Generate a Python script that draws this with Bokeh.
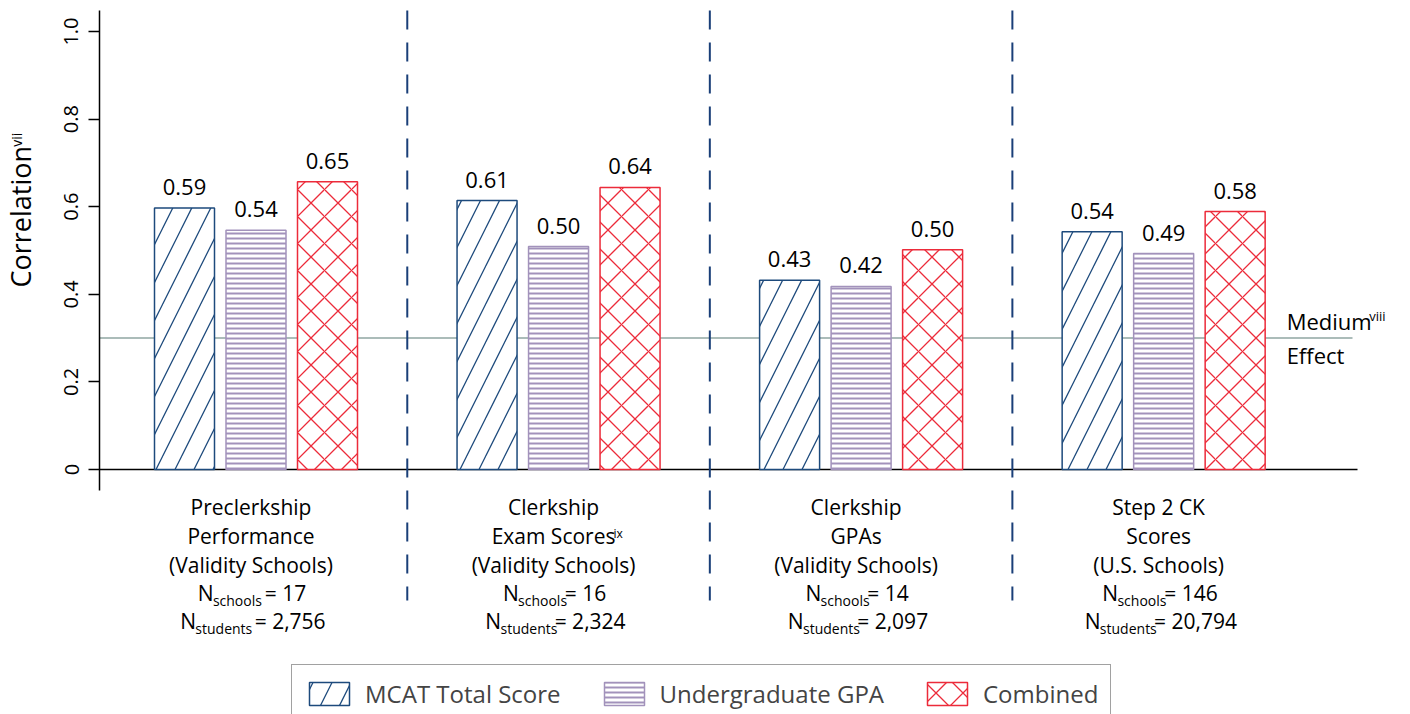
import math
from bokeh.plotting import figure
from bokeh.models import (ColumnDataSource, Range1d, FixedTicker, LinearAxis,
                          Label, LabelSet, Legend, LegendItem)
from bokeh.core.properties import value
from bokeh.embed import file_html
from bokeh.resources import INLINE

# ---------------- data ----------------
group_line1 = ["Preclerkship", "Clerkship", "Clerkship", "Step 2 CK"]
group_line2 = ["Performance", "Exam Scores", "GPAs", "Scores"]
group_line2_sup = ["", "ix", "", ""]
group_line3 = ["(Validity Schools)", "(Validity Schools)", "(Validity Schools)", "(U.S. Schools)"]
n_schools = ["17", "16", "14", "146"]
n_students = ["2,756", "2,324", "2,097", "20,794"]
eq_text = [" = ", "= ", "= ", "= "]

series_names = ["MCAT Total Score", "Undergraduate GPA", "Combined"]
mcat = [0.597, 0.614, 0.432, 0.543]
ugpa = [0.546, 0.509, 0.418, 0.493]
combined = [0.657, 0.644, 0.502, 0.589]
mcat_labels = ["0.59", "0.61", "0.43", "0.54"]
ugpa_labels = ["0.54", "0.50", "0.42", "0.49"]
combined_labels = ["0.65", "0.64", "0.50", "0.58"]

y_ticks = [0, 0.2, 0.4, 0.6, 0.8, 1.0]
y_tick_labels = ["0", "0.2", "0.4", "0.6", "0.8", "1.0"]
medium_effect = 0.3

# ---------------- styling / layout ----------------
NAVY = "#1d4a7c"
DIV = "#1a3f78"
LAV = "#a292bb"
RED = "#ec2b3a"
MED = "#8fa6a2"
FONT = "Open Sans"

W = {' ': 0.26, '(': 0.296, ')': 0.296, ',': 0.245, '.': 0.267, '=': 0.572,
     'N': 0.76, 's': 0.479, 'c': 0.48, 'h': 0.618, 'o': 0.6, 'l': 0.258, 't': 0.352,
     'u': 0.618, 'd': 0.615, 'e': 0.561, 'n': 0.618, 'i': 0.258, 'x': 0.52, 'v': 0.5,
     'r': 0.408, 'a': 0.556, 'm': 0.94, 'E': 0.556, 'S': 0.55, 'M': 0.907, 'C': 0.632}
for d in "0123456789":
    W[d] = 0.572


def tw(s, size):
    return 0.95 * sum(W.get(c, 0.55) for c in s) * size


CW, CH = 1408, 714
PX = 302.55                    # pixels per group
PY = 437.96                    # pixels per unit correlation
G0_PX, ZERO_PY = 255.5, 469.0  # canvas position of group 0 centre / of correlation 0
XS = -G0_PX / PX
XE = XS + CW / PX
YE = ZERO_PY / PY
YS = YE - CH / PY
AXIS_X = (99 - G0_PX) / PX
AX_BOT, AX_TOP = -21 / PY, 459 / PY
BASE_END = (1357 - G0_PX) / PX
MED_END = (1352 - G0_PX) / PX
DIV_BOT = -131 / PY
BAR_W = 60 / PX
OFF = 71.5 / PX

p = figure(width=CW, height=CH, output_backend="svg", toolbar_location=None,
           x_range=Range1d(XS, XE), y_range=Range1d(YS, YE),
           x_axis_location=None, y_axis_location=None,
           min_border_left=0, min_border_right=0, min_border_top=0, min_border_bottom=0,
           background_fill_color="white", border_fill_color="white")
p.outline_line_color = None
p.xgrid.grid_line_color = None
p.ygrid.grid_line_color = None

ax = LinearAxis(fixed_location=AXIS_X, bounds=(AX_BOT, AX_TOP))
ax.ticker = FixedTicker(ticks=y_ticks)
ax.major_label_overrides = {t: l for t, l in zip(y_ticks, y_tick_labels)}
ax.major_label_orientation = "vertical"
ax.major_label_text_font = FONT
ax.major_label_text_font_size = "20px"
ax.major_label_text_color = "black"
ax.major_label_standoff = 10
ax.axis_line_color = "black"
ax.axis_line_width = 1.5
ax.major_tick_line_color = "black"
ax.major_tick_line_width = 1.5
ax.major_tick_out = 11
ax.major_tick_in = 0
ax.minor_tick_line_color = None
p.add_layout(ax, "left")

# baseline and medium-effect line
p.segment(x0=[AXIS_X], y0=[0], x1=[BASE_END], y1=[0], line_color="black", line_width=1.5)
p.segment(x0=[AXIS_X], y0=[medium_effect], x1=[MED_END], y1=[medium_effect],
          line_color=MED, line_width=1.5)

groups = list(range(len(group_line1)))

# dashed dividers between groups
div_x = [g + 0.5 for g in groups[:-1]]
p.segment(x0=div_x, y0=[AX_TOP] * len(div_x), x1=div_x, y1=[DIV_BOT] * len(div_x),
          line_color=DIV, line_width=2, line_dash="19 13")

series = [
    (mcat, mcat_labels, -OFF, dict(line_color=NAVY, hatch_pattern="/", hatch_color=NAVY,
                                   hatch_scale=38, hatch_weight=1.3)),
    (ugpa, ugpa_labels, 0.0, dict(line_color=LAV, hatch_pattern="-", hatch_color=LAV,
                                  hatch_scale=5, hatch_weight=2.0)),
    (combined, combined_labels, OFF, dict(line_color=RED, hatch_pattern="x", hatch_color=RED,
                                          hatch_scale=27, hatch_weight=1.3)),
]
renderers = []
for vals, labs, off, style in series:
    src = ColumnDataSource(dict(x=[g + off for g in groups], top=vals, label=labs))
    r = p.vbar(x="x", top="top", bottom=0, width=BAR_W, source=src,
               fill_color="white", line_width=1.5, **style)
    renderers.append(r)
    p.add_layout(LabelSet(x="x", y="top", text="label", source=src, y_offset=13,
                          text_align="center", text_baseline="alphabetic",
                          text_font=value(FONT), text_font_size="22px", text_color="black"))


def lab(x, y, xo, yo, text, size, align="left", angle=0.0):
    fix = 0.38 * size
    if angle:
        xo -= fix
    else:
        yo += fix
    p.add_layout(Label(x=x, y=y, x_offset=xo, y_offset=yo, text=text, text_font=FONT,
                       text_font_size=f"{size}px", text_color="black", text_align=align,
                       text_baseline="alphabetic", angle=angle))


# group labels (baselines in px relative to the zero line)
GS = 21
SUB = 14
for g in groups:
    c = -5
    lab(g, 0, c, -45, group_line1[g], GS, "center")
    lab(g, 0, c, -74, group_line2[g], GS, "center")
    if group_line2_sup[g]:
        lab(g, 0, c + tw(group_line2[g], GS) / 2 + 1, -69, group_line2_sup[g], 12)
    lab(g, 0, c, -103, group_line3[g], GS, "center")
    for yo, sub, num in [(-131, "schools", n_schools[g]), (-159, "students", n_students[g])]:
        rest = eq_text[g] + num
        wN, wS, wR = tw("N", GS), tw(sub, SUB), tw(rest, GS)
        start = c - (wN + wS + wR) / 2
        lab(g, 0, start, yo, "N", GS)
        p.add_layout(Label(x=g, y=0, x_offset=start + wN, y_offset=yo - 5 + 0.38 * SUB,
                           text=sub, text_font=FONT, text_font_size=f"{SUB}px",
                           text_color="black", text_baseline="alphabetic"))
        lab(g, 0, start + wN + wS + (tw(" ", GS) if rest.startswith(" ") else 0), yo,
            rest.strip(), GS)

# y-axis title with superscript
wc = tw("Correlation", 27)
lab(AXIS_X, 0, -69, 182, "Correlation", 27, angle=math.pi / 2)
lab(AXIS_X, 0, -78, 182 + wc + 6, "vii", 14, angle=math.pi / 2)

# medium effect label
wm = tw("Medium", 22)
lab(3, medium_effect, 123, 9, "Medium", 22)
lab(3, medium_effect, 123 + wm + 1, 17, "viii", 13)
lab(3, medium_effect, 123, -25, "Effect", 22)

legend = Legend(items=[LegendItem(label=n, renderers=[r]) for n, r in zip(series_names, renderers)],
                orientation="horizontal", location=(291, -9), glyph_width=50, glyph_height=29,
                label_standoff=11, spacing=38, padding=12, margin=0,
                label_text_font=FONT, label_text_font_size="24px",
                border_line_color="#444444", border_line_width=1.5,
                background_fill_color="white", background_fill_alpha=1.0)
p.add_layout(legend)

open("out.html", "w").write(file_html(p, INLINE))
